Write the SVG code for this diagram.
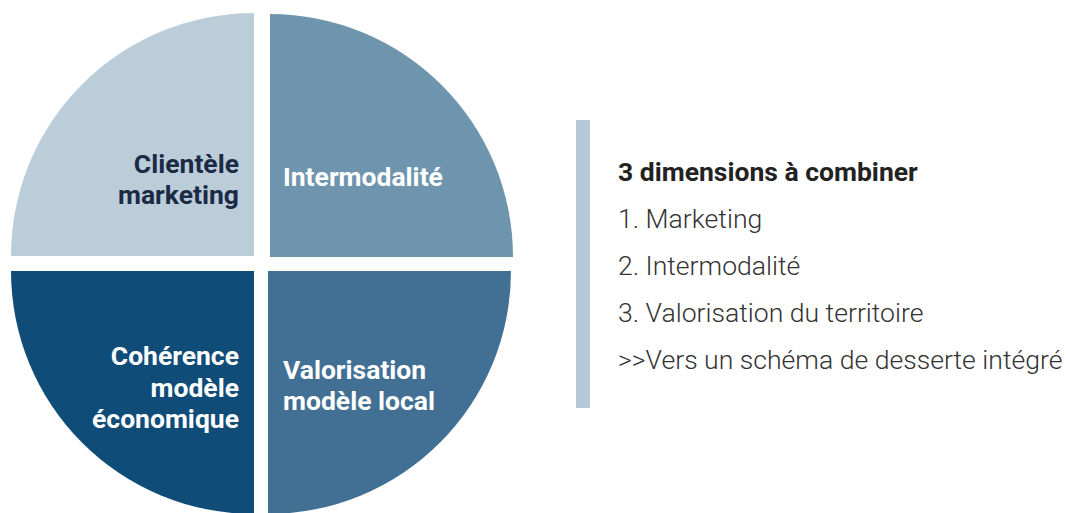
<svg xmlns="http://www.w3.org/2000/svg" width="1066" height="513" viewBox="0 0 1066 513">
<style>
.lbl{font-family:Roboto,"Liberation Sans",sans-serif;font-weight:700;font-size:26.5px}
.dark{fill:#1b2b45}
.light{fill:#ffffff}
.head{font-family:Roboto,"Liberation Sans",sans-serif;font-weight:700;font-size:26.5px;fill:#222222}
.item{font-family:Roboto,"Liberation Sans",sans-serif;font-weight:300;font-size:26.6px;fill:#333333}
</style>
<rect width="1066" height="513" fill="#ffffff"/>
<g id="q-clientele">
<path d="M254,256 L11,256 A243,243 0 0 1 254,13 Z" fill="#bccdda"/>
<text class="lbl dark" text-anchor="end"><tspan x="239" y="173">Clientèle</tspan><tspan x="239" y="204">marketing</tspan></text>
</g>
<g id="q-intermodalite">
<path d="M270,257 L270,14 A243,243 0 0 1 513,257 Z" fill="#6f95ae"/>
<text class="lbl light" x="283" y="186">Intermodalité</text>
</g>
<g id="q-coherence">
<path d="M254,271 L254,514 A243,243 0 0 1 11,271 Z" fill="#104c78"/>
<text class="lbl light" text-anchor="end"><tspan x="239" y="365">Cohérence</tspan><tspan x="239" y="397">modèle</tspan><tspan x="239" y="428">économique</tspan></text>
</g>
<g id="q-valorisation">
<path d="M268,271 L511,271 A243,243 0 0 1 268,514 Z" fill="#417094"/>
<text class="lbl light"><tspan x="283" y="379">Valorisation</tspan><tspan x="283" y="410">modèle local</tspan></text>
</g>
<g id="panel">
<rect x="576" y="120" width="14" height="288" fill="#b5c9d9"/>
<text class="head" x="618" y="181">3 dimensions à combiner</text>
<text class="item" x="618" y="228">1. Marketing</text>
<text class="item" x="618" y="275">2. Intermodalité</text>
<text class="item" x="618" y="322">3. Valorisation du territoire</text>
<text class="item" x="618" y="369">&gt;&gt;Vers un schéma de desserte intégré</text>
</g>
<g id="connectors"/>
</svg>
